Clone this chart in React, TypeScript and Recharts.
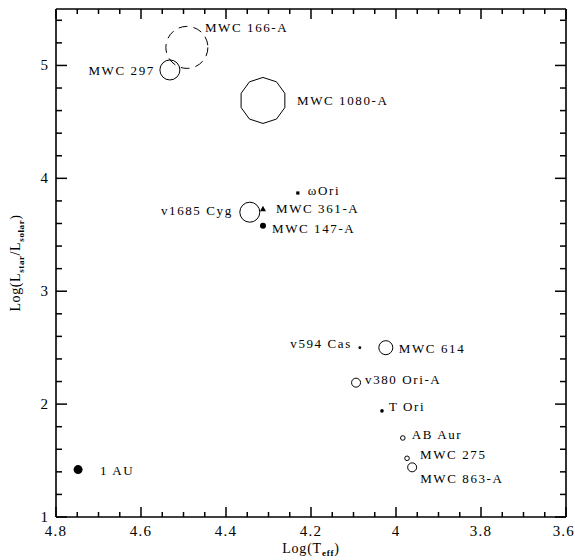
import { Scatter, ScatterChart, XAxis, YAxis } from "recharts";

// HR diagram: log Teff vs log L/Lsun
const names = [
  "MWC 166-A", "MWC 297", "MWC 1080-A", "ωOri", "MWC 361-A", "v1685 Cyg", "MWC 147-A",
  "v594 Cas", "MWC 614", "v380 Ori-A", "T Ori", "AB Aur", "MWC 275", "MWC 863-A", "1 AU",
];
const logTeff = [4.492, 4.532, 4.313, 4.231, 4.313, 4.344, 4.313, 4.085, 4.024, 4.094, 4.033, 3.984, 3.974, 3.962, 4.748];
const logLum = [5.16, 4.96, 4.69, 3.87, 3.73, 3.7, 3.58, 2.5, 2.5, 2.19, 1.94, 1.7, 1.52, 1.44, 1.42];

const xMajor = [4.8, 4.6, 4.4, 4.2, 4, 3.8, 3.6];
const xTicks = [
  3.6, 3.65, 3.7, 3.75, 3.8, 3.85, 3.9, 3.95, 4, 4.05, 4.1, 4.15, 4.2,
  4.25, 4.3, 4.35, 4.4, 4.45, 4.5, 4.55, 4.6, 4.65, 4.7, 4.75, 4.8,
];
const yMajor = [1, 2, 3, 4, 5];
const yTicks = [
  1, 1.2, 1.4, 1.6, 1.8, 2, 2.2, 2.4, 2.6, 2.8, 3, 3.2, 3.4, 3.6, 3.8,
  4, 4.2, 4.4, 4.6, 4.8, 5, 5.2, 5.4,
];

// marker + label style per star
const markers: Record<string, { kind: string; r: number; dx: number; dy: number; anchor?: string }> = {
  "MWC 166-A": { kind: "dashed", r: 21, dx: 18, dy: -20 },
  "MWC 297": { kind: "open", r: 10, dx: -15, dy: 1, anchor: "end" },
  "MWC 1080-A": { kind: "poly", r: 23, dx: 34, dy: 0 },
  "ωOri": { kind: "square", r: 1.6, dx: 10, dy: -3 },
  "MWC 361-A": { kind: "tri", r: 3, dx: 13, dy: 0 },
  "v1685 Cyg": { kind: "open", r: 10, dx: -17, dy: -2, anchor: "end" },
  "MWC 147-A": { kind: "dot", r: 3, dx: 9, dy: 3 },
  "v594 Cas": { kind: "dot", r: 1.4, dx: -8, dy: -4, anchor: "end" },
  "MWC 614": { kind: "open", r: 7, dx: 13, dy: 1 },
  "v380 Ori-A": { kind: "open", r: 4.5, dx: 9, dy: -3 },
  "T Ori": { kind: "dot", r: 1.8, dx: 7, dy: -4 },
  "AB Aur": { kind: "open", r: 2.3, dx: 9, dy: -3 },
  "MWC 275": { kind: "open", r: 2.3, dx: 13, dy: -4 },
  "MWC 863-A": { kind: "open", r: 4.5, dx: 8, dy: 11 },
  "1 AU": { kind: "dot", r: 4.5, dx: 22, dy: 1 },
};

const data = names.map((name, i) => ({ name, t: logTeff[i], l: logLum[i] }));

const FONT = "'Liberation Serif', serif";
const W = 575;
const H = 560;
const TOP = 9;
const LEFT = 56;
const BOTTOM_H = 43;
const RIGHT = 9;
const PLOT_W = W - LEFT - RIGHT;
const PLOT_H = H - TOP - BOTTOM_H;

function StarShape(props: any) {
  const { cx, cy, payload } = props;
  const m = markers[payload.name];
  let mark: any = null;
  if (m.kind === "dashed") {
    mark = <circle cx={cx} cy={cy} r={m.r} fill="none" stroke="#000" strokeWidth={1} strokeDasharray="9 6" />;
  } else if (m.kind === "open") {
    mark = <circle cx={cx} cy={cy} r={m.r} fill="none" stroke="#000" strokeWidth={1} />;
  } else if (m.kind === "dot") {
    mark = <circle cx={cx} cy={cy} r={m.r} fill="#000" />;
  } else if (m.kind === "square") {
    mark = <rect x={cx - m.r} y={cy - m.r} width={m.r * 2} height={m.r * 2} fill="#000" />;
  } else if (m.kind === "tri") {
    mark = (
      <polygon
        points={`${cx},${cy - m.r} ${cx - m.r},${cy + m.r * 0.8} ${cx + m.r},${cy + m.r * 0.8}`}
        fill="#000"
      />
    );
  } else if (m.kind === "poly") {
    const pts = [];
    for (let k = 0; k < 10; k++) {
      const a = (Math.PI / 5) * k + Math.PI / 10;
      pts.push(`${cx + m.r * Math.cos(a)},${cy + m.r * Math.sin(a)}`);
    }
    mark = <polygon points={pts.join(" ")} fill="none" stroke="#000" strokeWidth={1} />;
  }
  return (
    <g>
      {mark}
      <text
        x={cx + m.dx}
        y={cy + m.dy}
        textAnchor={m.anchor || "start"}
        dominantBaseline="central"
        fontFamily={FONT}
        fontSize={13}
        letterSpacing={1.6}
        fill="#000"
      >
        {payload.name}
      </text>
    </g>
  );
}

// inward ticks; the bottom/left axes also draw the mirrored top/right ones and the titles
const BottomTick = (props: any) => {
  const x = Number(props.x);
  const y = Number(props.y);
  const v = props.payload.value;
  const major = xMajor.includes(v);
  const len = major ? 10 : 5;
  const last = v === 3.6;
  const first = v === 4.8;
  return (
    <g>
      <line x1={x} x2={x} y1={y} y2={y - len} stroke="#000" strokeWidth={1.5} />
      <line x1={x} x2={x} y1={y - PLOT_H} y2={y - PLOT_H + len} stroke="#000" strokeWidth={1.5} />
      {last && <line x1={x} x2={x} y1={y} y2={y - PLOT_H} stroke="#000" strokeWidth={1.6} />}
      {major && (
        <text
          x={last ? x + 9 : x}
          y={y + 19}
          textAnchor={last ? "end" : "middle"}
          fontFamily={FONT}
          fontSize={15}
          letterSpacing={1.2}
          fill="#000"
        >
          {String(v)}
        </text>
      )}
      {first && (
        <text x={x + PLOT_W / 2} y={y + 36} textAnchor="middle" fontFamily={FONT} fontSize={14} letterSpacing={0.8} fill="#000">
          Log(T
          <tspan dy={3} fontSize={9} fontWeight="bold">eff</tspan>
          <tspan dy={-3}>)</tspan>
        </text>
      )}
    </g>
  );
};

const LeftTick = (props: any) => {
  const x = Number(props.x);
  const y = Number(props.y);
  const v = props.payload.value;
  const major = yMajor.includes(v);
  const len = major ? 11 : 6;
  const cx = x - 36;
  const cy = y - PLOT_H / 2;
  return (
    <g>
      <line x1={x} x2={x + len} y1={y} y2={y} stroke="#000" strokeWidth={1.5} />
      <line x1={x + PLOT_W} x2={x + PLOT_W - len} y1={y} y2={y} stroke="#000" strokeWidth={1.5} />
      {major && (
        <text x={x - 8} y={y + 5} textAnchor="end" fontFamily={FONT} fontSize={15} fill="#000">
          {String(v)}
        </text>
      )}
      {v === 1 && (
        <text x={cx} y={cy} transform={`rotate(-90 ${cx} ${cy})`} textAnchor="middle" fontFamily={FONT} fontSize={14} letterSpacing={0.6} fill="#000">
          Log(L
          <tspan dy={4} fontSize={9} fontWeight="bold">star</tspan>
          <tspan dy={-4}>/L</tspan>
          <tspan dy={4} fontSize={9} fontWeight="bold">solar</tspan>
          <tspan dy={-4}>)</tspan>
        </text>
      )}
    </g>
  );
};

export default function App() {
  return (
    <div style={{ position: "absolute", left: 0, top: 0, width: W, height: H, background: "#fff" }}>
      <ScatterChart width={W} height={H} margin={{ top: 0, right: RIGHT, bottom: 0, left: 0 }}>
        <XAxis
          xAxisId="b"
          dataKey="t"
          type="number"
          domain={[3.6, 4.8]}
          reversed
          ticks={xTicks}
          interval={0}
          height={BOTTOM_H}
          tickSize={0}
          tickMargin={0}
          tickLine={false}
          tick={BottomTick}
          axisLine={{ stroke: "#000", strokeWidth: 1.6 }}
        />
        <XAxis
          xAxisId="t"
          dataKey="t"
          type="number"
          orientation="top"
          domain={[3.6, 4.8]}
          reversed
          height={TOP}
          tick={false}
          tickLine={false}
          axisLine={{ stroke: "#000", strokeWidth: 1.6 }}
        />
        <YAxis
          yAxisId="l"
          dataKey="l"
          type="number"
          domain={[1, 5.5]}
          ticks={yTicks}
          interval={0}
          width={LEFT}
          tickSize={0}
          tickMargin={0}
          tickLine={false}
          tick={LeftTick}
          axisLine={{ stroke: "#000", strokeWidth: 1.6 }}
        />
        <Scatter data={data} xAxisId="b" yAxisId="l" shape={<StarShape />} isAnimationActive={false} />
      </ScatterChart>
    </div>
  );
}
